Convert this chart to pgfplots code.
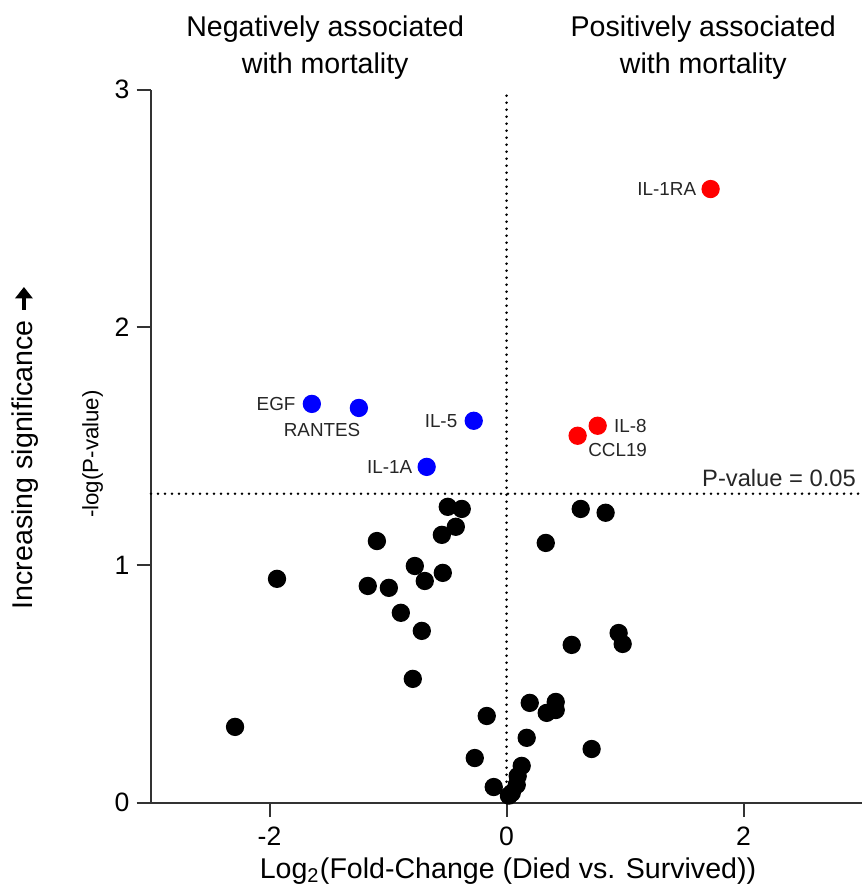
\documentclass[border=0pt]{standalone}
\usepackage{fontspec}
\setmainfont{Liberation Sans}
\usepackage{pgfplots}
\pgfplotsset{compat=1.18}
\usetikzlibrary{arrows.meta}

% cytokines that do not reach p < 0.05
\pgfplotstableread{
x y
-0.496 1.245
-0.378 1.236
-0.428 1.161
-0.546 1.127
-1.094 1.101
-0.774 0.996
-0.538 0.967
-0.690 0.933
-1.171 0.912
-0.993 0.904
-0.892 0.799
-0.715 0.723
-0.791 0.521
-1.937 0.942
-2.291 0.319
0.626 1.236
0.836 1.220
0.331 1.093
0.946 0.714
0.980 0.668
0.550 0.664
0.196 0.420
0.415 0.424
0.415 0.390
0.339 0.378
-0.167 0.365
0.170 0.273
0.718 0.226
-0.268 0.188
0.128 0.155
0.094 0.112
0.086 0.075
0.044 0.041
0.020 0.030
-0.108 0.066
}\nonsig

\pgfplotstableread{
x y
-1.643 1.678
-1.246 1.661
-0.277 1.607
-0.674 1.413
}\negsig

\pgfplotstableread{
x y
1.722 2.582
0.769 1.586
0.600 1.544
}\possig

\tikzset{
  dotline/.style={black, line width=1pt, line cap=round, dash pattern=on 0pt off 2.45pt},
  ptlabel/.style={font=\fontsize{6.6}{8}\selectfont, text=black!85, inner sep=0pt},
}

\begin{document}
\begin{tikzpicture}
\begin{axis}[
  scale only axis, width=248.85pt, height=249.55pt,
  xmin=-3, xmax=3, ymin=0, ymax=3,
  axis x line*=bottom, axis y line*=left,
  axis line style={black!80, line width=0.7pt},
  xtick={-2,0,2}, ytick={0,1,2,3},
  tick align=outside, major tick length=5pt,
  tick style={black!80, line width=0.7pt},
  ticklabel style={font=\fontsize{9.3}{11}\selectfont},
  yticklabel style={xshift=1pt},
  /pgf/number format/assume math mode=true,
  clip=false,
]
\draw[dotline] (axis cs:0,0) -- (axis cs:0,3);
\draw[dotline] (axis cs:-3,1.3) -- (axis cs:3,1.3);

\addplot[only marks, mark=*, mark size=3pt, draw=black, fill=black] table {\nonsig};
\addplot[only marks, mark=*, mark size=3pt, draw=blue, fill=blue] table {\negsig};
\addplot[only marks, mark=*, mark size=3pt, draw=red, fill=red] table {\possig};

\node[ptlabel, anchor=east] at (axis cs:-1.776,1.678) {EGF};
\node[ptlabel, anchor=east] at (axis cs:-1.229,1.569) {RANTES};
\node[ptlabel, anchor=east] at (axis cs:-0.411,1.607) {IL-5};
\node[ptlabel, anchor=east] at (axis cs:-0.792,1.413) {IL-1A};
\node[ptlabel, anchor=east] at (axis cs:1.605,2.582) {IL-1RA};
\node[ptlabel, anchor=west] at (axis cs:0.904,1.586) {IL-8};
\node[ptlabel, anchor=west] at (axis cs:0.685,1.484) {CCL19};
\node[anchor=east, inner sep=0pt, font=\fontsize{8.3}{10}\selectfont, text=black!85]
  at (axis cs:2.952,1.367) {P-value = 0.05};

\node[anchor=north, align=center, inner sep=0pt, font=\fontsize{10}{13}\selectfont]
  at (axis cs:-1.53,3.315) {Negatively associated\\with mortality};
\node[anchor=north, align=center, inner sep=0pt, font=\fontsize{10}{13}\selectfont]
  at (axis cs:1.66,3.315) {Positively associated\\with mortality};

\node[anchor=base, inner sep=0pt, font=\fontsize{10}{12}\selectfont]
  at (rel axis cs:0.502,-0.1056) {Log\textsubscript{2}(Fold-Change (Died vs. Survived))};
\node[rotate=90, anchor=center, inner sep=0pt, font=\fontsize{7.8}{9}\selectfont]
  at (rel axis cs:-0.0823,0.489) {-log(P-value)};
\node[rotate=90, anchor=base, inner sep=0pt, font=\fontsize{10}{12}\selectfont]
  at (rel axis cs:-0.166,0.499) {Increasing significance
  \tikz[baseline=-0.6ex]\draw[-{Triangle[length=4pt,width=6pt]}, line width=1.6pt] (0,0) -- (8pt,0);};

\coordinate (bbl) at (rel axis cs:-0.2124,-0.1168);
\coordinate (btr) at (rel axis cs:1.0,1.1258);
\end{axis}
\pgfresetboundingbox
\path[use as bounding box] (bbl) rectangle (btr);
\end{tikzpicture}
\end{document}
